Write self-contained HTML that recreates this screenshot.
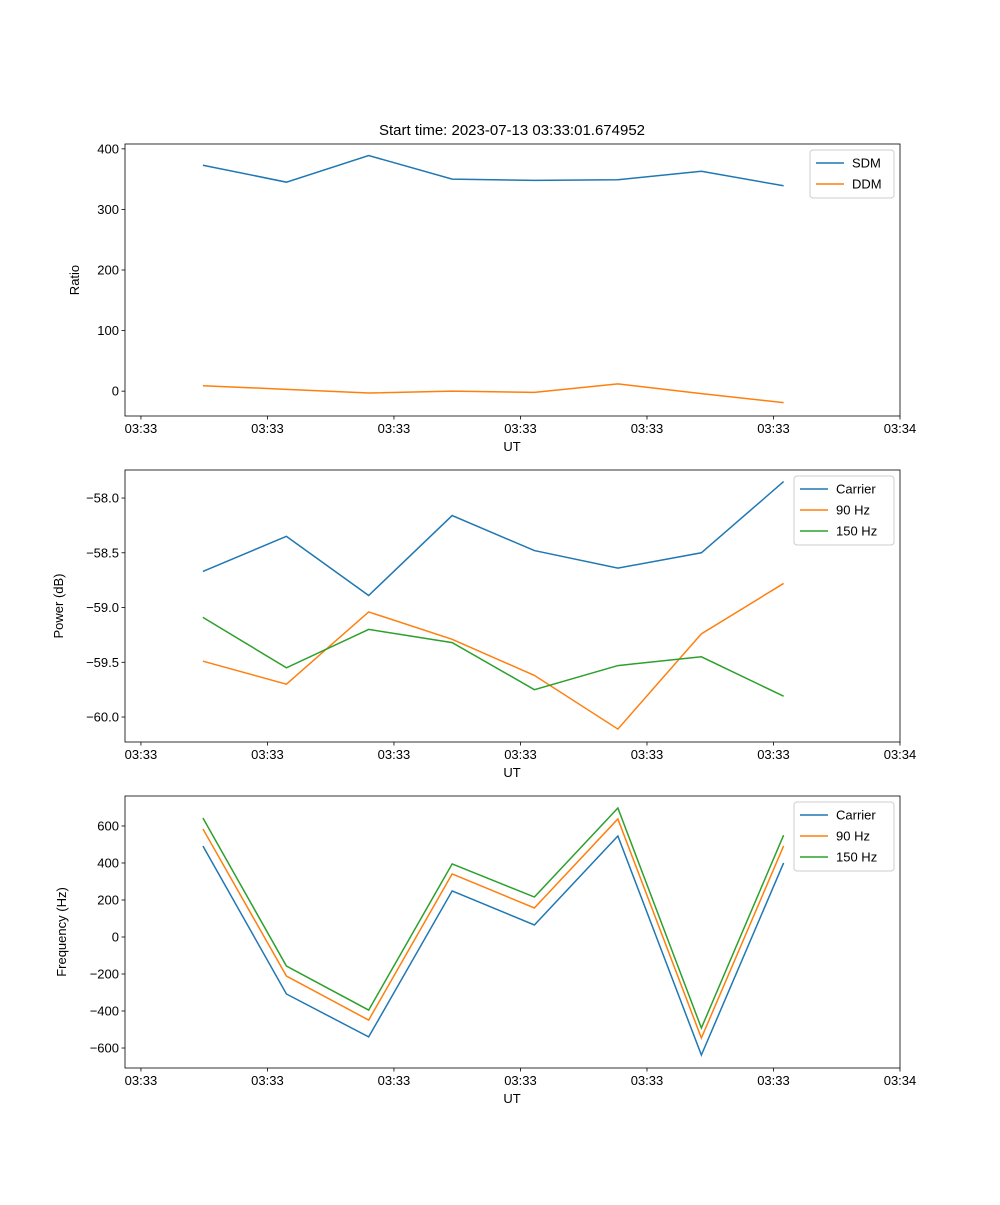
<!DOCTYPE html>
<html><head><meta charset="utf-8"><style>
body{margin:0;background:#fff}
svg text{font-family:"Liberation Sans","DejaVu Sans",sans-serif;font-size:13px;fill:#000}
</style></head><body>
<svg id="fig" width="1000" height="1200" xmlns="http://www.w3.org/2000/svg">
<rect width="1000" height="1200" fill="#fff"/>
<text x="512" y="135" text-anchor="middle" style="font-size:15px">Start time: 2023-07-13 03:33:01.674952</text>
</svg>
<script>
const times=[4.9,11.5,18.0,24.6,31.1,37.7,44.3,50.8];
const xTicks=[0,10,20,30,40,50,60];
const xTickLabels=["03:33","03:33","03:33","03:33","03:33","03:33","03:34"];
const sdm=[373,345,389,350,348,349,363,339];
const ddm=[9,3,-3,0,-2,12,-4,-19];
const pwrCarrier=[-58.67,-58.35,-58.89,-58.16,-58.48,-58.64,-58.50,-57.85];
const pwr90=[-59.49,-59.70,-59.04,-59.29,-59.62,-60.11,-59.24,-58.78];
const pwr150=[-59.09,-59.55,-59.20,-59.32,-59.75,-59.53,-59.45,-59.81];
const frqCarrier=[492,-308,-540,249,65,546,-638,400];
const frq90=[584,-211,-449,341,157,638,-546,492];
const frq150=[643,-157,-395,395,216,697,-492,550];
const ticks1=[0,100,200,300,400];
const ticks2=[-60,-59.5,-59,-58.5,-58];
const ticks2Labels=["\u221260.0","\u221259.5","\u221259.0","\u221258.5","\u221258.0"];
const ticks3=[-600,-400,-200,0,200,400,600];
const ticks3Labels=["\u2212600","\u2212400","\u2212200","0","200","400","600"];
const C=["#1f77b4","#ff7f0e","#2ca02c"];
const svg=document.getElementById('fig');
const NS="http://www.w3.org/2000/svg";
function mk(tag,attrs,parent){const e=document.createElementNS(NS,tag);for(const k in attrs)e.setAttribute(k,attrs[k]);(parent||svg).appendChild(e);return e;}
const L=125,R=900;
function xs(t){return L+(t-(-1.26))/(60-(-1.26))*(R-L);}
function panel(name,top,bot,ymin,ymax,series,names,yt,ytl,ylabel,legW){
  const g=mk('g',{});
  
  
  const ys=v=>bot-(v-ymin)/(ymax-ymin)*(bot-top);
  series.forEach((s,i)=>{
    const p=mk('polyline',{points:s.map((v,j)=>xs(times[j])+','+ys(v)).join(' '),fill:'none',stroke:C[i],'stroke-width':1.5},g);
    
    
  });
  const fr=mk('rect',{x:L,y:top,width:R-L,height:bot-top,fill:'none',stroke:'#000','stroke-width':0.8},g);
  
  
  xTicks.forEach((t,i)=>{const x=xs(t);mk('line',{x1:x,x2:x,y1:bot,y2:bot+3.5,stroke:'#000','stroke-width':0.8},g);
    const tx=mk('text',{x:x,y:bot+17,'text-anchor':'middle'},g);tx.textContent=xTickLabels[i];
    
    });
  yt.forEach((v,i)=>{const y=ys(v);mk('line',{x1:L-3.5,x2:L,y1:y,y2:y,stroke:'#000','stroke-width':0.8},g);
    const tx=mk('text',{x:L-6,y:y+4.5,'text-anchor':'end'},g);tx.textContent=ytl[i];
    
    });
  const xl=mk('text',{x:512,y:bot+35,'text-anchor':'middle'},g);xl.textContent='UT';
  
  
  const yx=ylabel[1];
  const yl=mk('text',{x:yx,y:(top+bot)/2,'text-anchor':'middle',transform:`rotate(-90 ${yx} ${(top+bot)/2})`},g);yl.textContent=ylabel[0];
  
  
  const lx=R-6-legW,ly=top+6,lh=names.length*21+6;
  const lg=mk('g',{},g);
  
  
  mk('rect',{x:lx,y:ly,width:legW,height:lh,fill:'#fff',stroke:'#ccc',rx:3},lg);
  names.forEach((n,i)=>{const y=ly+13+i*21;
    mk('line',{x1:lx+6,x2:lx+34,y1:y,y2:y,stroke:C[i],'stroke-width':1.5},lg);
    const t=mk('text',{x:lx+42,y:y+4.5},lg);t.textContent=n;
    
    });
}
panel('ratio-panel',144,416,-41,408,[sdm,ddm],['SDM','DDM'],ticks1,ticks1.map(String),['Ratio',79],84);
panel('power-panel',470,742,-60.228,-57.744,[pwrCarrier,pwr90,pwr150],['Carrier','90 Hz','150 Hz'],ticks2,ticks2Labels,['Power (dB)',63],100);
panel('frequency-panel',796,1068,-708,762,[frqCarrier,frq90,frq150],['Carrier','90 Hz','150 Hz'],ticks3,ticks3Labels,['Frequency (Hz)',66],100);
</script>
</body></html>
